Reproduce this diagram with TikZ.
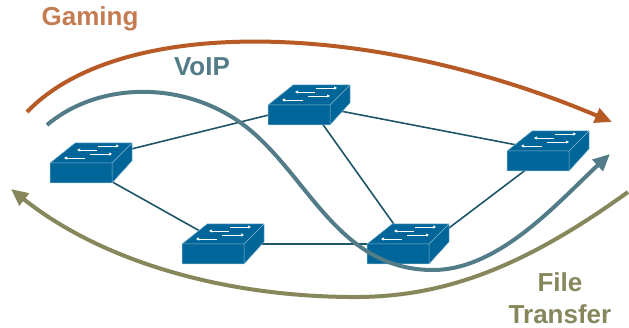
\documentclass[tikz,border=0pt]{standalone}
\usepackage{fontspec}
\setmainfont{Liberation Sans}
\usetikzlibrary{arrows.meta}
\definecolor{gamingc}{HTML}{B75A26}
\definecolor{voipc}{HTML}{537C89}
\definecolor{filec}{HTML}{87875C}
\definecolor{switchc}{HTML}{006699}
\definecolor{linkc}{HTML}{1E5568}
\tikzset{
  swnode/.style={inner sep=0pt,minimum width=82pt,minimum height=40pt},
  link/.style={linkc,line width=1.6pt},
  flow/.style={line width=4pt,-{Triangle[length=17pt,width=15pt]}},
  flowlabel/.style={font=\bfseries\fontsize{26}{32}\selectfont,inner sep=0pt,align=center},
  swarrow/.style={white,line width=.7pt,-{Triangle[length=3pt,width=3pt]}},
  switchicon/.pic={
    \draw[fill=switchc,draw=switchc!45!white,line width=.5pt,line join=round] (-41,0)--(-16,-20)--(41,-20)--(41,-2)--(21,20)--(-41,20)--cycle;
    \draw[switchc!45!white,line width=.5pt] (-41,0)--(21,0)--(41,-20) (21,0)--(21,20);
    \draw[swarrow] (7,-17)--(28,-17);
    \draw[swarrow] (6,-13)--(-14,-13);
    \draw[swarrow] (-1,-9)--(21,-9);
    \draw[swarrow] (-6,-5)--(-27,-5);
  }
}
\begin{document}
\begin{tikzpicture}[x=1pt,y=-1pt]
  \useasboundingbox (0,0) rectangle (629,328);
  \node[swnode] (swa) at (91,163) {};
  \node[swnode] (swb) at (309,105) {};
  \node[swnode] (swc) at (223,244) {};
  \node[swnode] (swd) at (408,244) {};
  \node[swnode] (swe) at (548,151) {};
  \draw[link] ([yshift=4pt]swa.center)--(swb.center);
  \draw[link] ([yshift=-7pt]swa.center)--(swc.center);
  \draw[link] (swb.center)--(swd.center);
  \draw[link] (swb.center)--(swe.center);
  \draw[link] (swc.center)--(swd.center);
  \draw[link] ([yshift=-15pt]swd.center)--([yshift=-2pt]swe.center);
  \foreach \sw in {swa,swb,swc,swd,swe}
    \pic at (\sw) {switchicon};
  \draw[flow,gamingc] (27,112) .. controls (120,15) and (370,20) .. (612,122);
  \draw[flow,voipc] (47,125) .. controls (100,80) and (190,80) .. (250,130) .. controls (310,180) and (340,270) .. (433,270) .. controls (500,270) and (560,200) .. (610,154);
  \draw[flow,filec] (628,192) .. controls (520,270) and (440,298) .. (350,297) .. controls (220,296) and (100,260) .. (11,189);
  \node[flowlabel,text=gamingc!80!white] (gaming) at (90,19) {Gaming};
  \node[flowlabel,text=voipc] (voip) at (202,67) {VoIP};
  \node[flowlabel,text=filec] (file) at (560,298) {File\\Transfer};
\end{tikzpicture}
\end{document}
